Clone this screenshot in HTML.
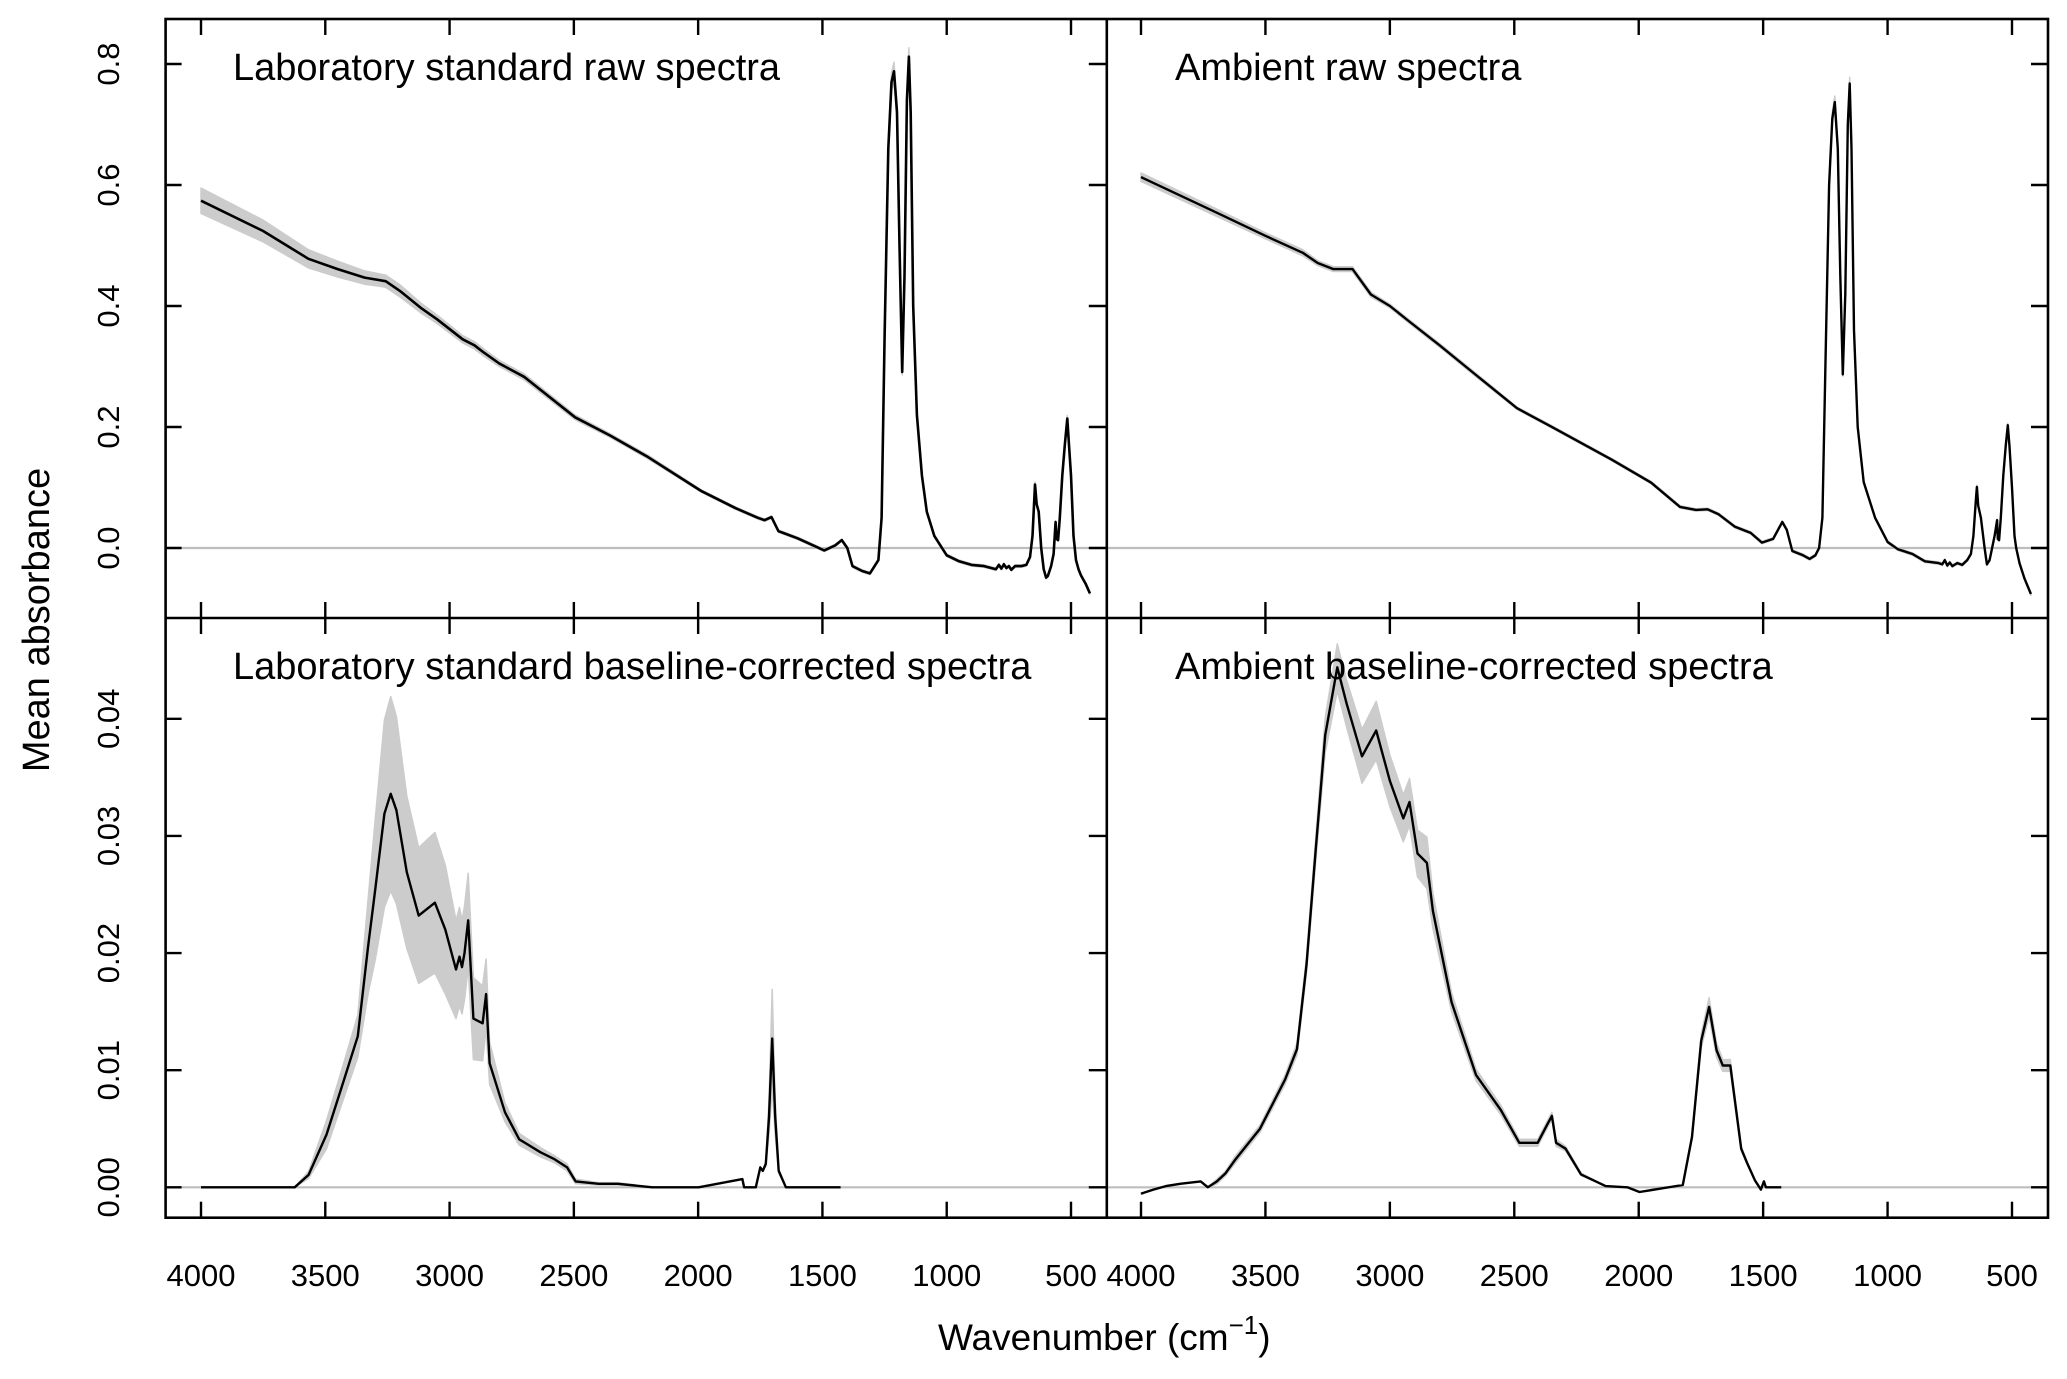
<!DOCTYPE html>
<html><head><meta charset="utf-8"><style>
html,body{margin:0;padding:0;background:#fff}
svg{display:block;font-family:"Liberation Sans",Arial,sans-serif}
</style></head><body>
<svg id="fig" width="2067" height="1379" viewBox="0 0 2067 1379" xmlns="http://www.w3.org/2000/svg"></svg>
<script>
// ---- data: lab raw ----
const labRawWn   = [4000,3750,3568,3450,3342,3257,3200,3116,3050,2947,2900,2862,2800,2700,2495,2354,2200,1987,1850,1760,1733,1705,1677,1600,1493,1450,1422,1400,1379,1340,1309,1290,1275,1262,1250,1235,1222,1212,1200,1190,1179,1170,1160,1152,1145,1135,1120,1100,1080,1050,1000,950,900,850,802,790,780,770,760,750,740,725,700,680,665,655,645,638,630,620,610,600,593,580,570,562,558,552,545,535,525,515,508,500,490,480,470,460,440,424];
const labRawMean = [0.574,0.524,0.478,0.461,0.447,0.441,0.425,0.397,0.378,0.345,0.335,0.323,0.305,0.283,0.216,0.186,0.150,0.094,0.066,0.050,0.046,0.051,0.028,0.016,-0.004,0.004,0.013,0.000,-0.030,-0.038,-0.042,-0.030,-0.020,0.05,0.35,0.66,0.77,0.788,0.72,0.50,0.291,0.45,0.74,0.812,0.72,0.40,0.22,0.12,0.06,0.02,-0.012,-0.022,-0.028,-0.030,-0.035,-0.028,-0.034,-0.027,-0.033,-0.030,-0.036,-0.030,-0.030,-0.028,-0.015,0.02,0.105,0.072,0.060,0.00,-0.035,-0.049,-0.046,-0.030,-0.010,0.043,0.015,0.013,0.05,0.12,0.17,0.214,0.17,0.12,0.02,-0.02,-0.035,-0.045,-0.060,-0.075];
const labRawSd   = [0.021,0.018,0.015,0.013,0.011,0.010,0.010,0.008,0.007,0.006,0.006,0.006,0.005,0.005,0.004,0.003,0.003,0.002,0.002,0.002,0.002,0.002,0.002,0.002,0.002,0.002,0.002,0.002,0.002,0.002,0.002,0.002,0.002,0.004,0.008,0.012,0.015,0.015,0.012,0.008,0.005,0.008,0.015,0.015,0.010,0.006,0.004,0.003,0.002,0.002,0.002,0.002,0.002,0.002,0.002,0.002,0.002,0.002,0.002,0.002,0.002,0.002,0.002,0.002,0.002,0.002,0.004,0.003,0.002,0.002,0.002,0.002,0.002,0.002,0.002,0.002,0.002,0.002,0.002,0.003,0.004,0.005,0.004,0.003,0.002,0.002,0.002,0.002,0.002,0.002];
// ---- data: ambient raw ----
const ambRawWn   = [4000,3700,3500,3350,3290,3227,3150,3076,3000,2927,2800,2654,2489,2353,2108,1950,1834,1770,1723,1680,1613,1550,1505,1460,1423,1405,1383,1340,1313,1290,1275,1262,1250,1235,1222,1212,1200,1190,1180,1170,1160,1152,1145,1135,1120,1096,1050,1000,959,900,850,795,780,770,760,750,740,720,700,680,665,655,645,641,636,625,610,601,590,580,570,560,557,552,545,535,525,517,510,500,490,483,470,450,424];
const ambRawMean = [0.613,0.555,0.516,0.488,0.471,0.461,0.461,0.419,0.400,0.376,0.335,0.286,0.231,0.201,0.146,0.108,0.068,0.063,0.064,0.056,0.035,0.025,0.009,0.015,0.043,0.030,-0.005,-0.012,-0.018,-0.012,0.00,0.05,0.30,0.60,0.71,0.737,0.66,0.45,0.287,0.42,0.70,0.768,0.66,0.36,0.20,0.109,0.05,0.01,-0.002,-0.010,-0.022,-0.025,-0.027,-0.020,-0.029,-0.024,-0.030,-0.025,-0.028,-0.020,-0.010,0.02,0.08,0.101,0.07,0.05,0.00,-0.027,-0.020,0.00,0.020,0.046,0.015,0.013,0.05,0.12,0.17,0.203,0.168,0.10,0.02,0.00,-0.025,-0.050,-0.076];
const ambRawSd   = [0.007,0.006,0.005,0.005,0.004,0.004,0.004,0.004,0.003,0.003,0.003,0.003,0.002,0.002,0.002,0.002,0.002,0.002,0.002,0.002,0.002,0.002,0.002,0.002,0.002,0.002,0.002,0.002,0.002,0.002,0.002,0.003,0.005,0.008,0.010,0.010,0.008,0.005,0.003,0.005,0.008,0.010,0.008,0.005,0.003,0.002,0.002,0.002,0.002,0.002,0.002,0.002,0.002,0.002,0.002,0.002,0.002,0.002,0.002,0.002,0.002,0.002,0.002,0.003,0.002,0.002,0.002,0.002,0.002,0.002,0.002,0.002,0.002,0.002,0.002,0.002,0.002,0.003,0.002,0.002,0.002,0.002,0.002,0.002,0.002];
// ---- data: lab baseline-corrected ----
const labBcWn   = [4000,3700,3623,3567,3495,3426,3369,3328,3299,3262,3237,3214,3172,3124,3059,3017,2974,2960,2950,2940,2925,2904,2867,2853,2839,2777,2720,2635,2578,2527,2493,2400,2323,2184,1998,1822,1815,1768,1750,1740,1728,1715,1702,1690,1676,1647,1427];
const labBcMean = [0,0,0,0.00106,0.0045,0.0091,0.0129,0.0205,0.0254,0.0319,0.0336,0.0322,0.0269,0.0232,0.0243,0.0220,0.0186,0.0197,0.0188,0.0200,0.0228,0.0144,0.0140,0.0165,0.0106,0.0064,0.0041,0.0030,0.0024,0.0017,0.0005,0.0003,0.0003,0,0,0.0007,0,0,0.0017,0.0014,0.0020,0.0060,0.0127,0.0060,0.0014,0,0];
const labBcSd   = [0,0,0,0.0003,0.0012,0.0015,0.0018,0.0040,0.0060,0.0080,0.0083,0.0080,0.0065,0.0058,0.0060,0.0055,0.0042,0.0042,0.0040,0.0040,0.0040,0.0035,0.0032,0.0030,0.0018,0.0008,0.0005,0.0004,0.0003,0.0003,0.0002,0.0001,0.0001,0,0,0,0,0,0,0,0.0002,0.0015,0.0042,0.0015,0.0002,0,0];
// ---- data: ambient baseline-corrected ----
const ambBcWn   = [4000,3950,3900,3843,3800,3760,3731,3695,3660,3620,3522,3421,3373,3335,3298,3260,3211,3174,3112,3055,3000,2946,2921,2889,2851,2827,2752,2654,2554,2480,2406,2369,2349,2332,2294,2232,2133,2046,1997,1823,1786,1749,1717,1687,1662,1632,1588,1563,1533,1509,1497,1489,1427];
const ambBcMean = [-0.00055,-0.0002,0.0001,0.0003,0.0004,0.0005,0,0.0005,0.0012,0.0024,0.005,0.0092,0.0118,0.019,0.0288,0.0386,0.0444,0.0413,0.0368,0.0390,0.0347,0.0315,0.0329,0.0285,0.0277,0.0236,0.0158,0.0096,0.0066,0.0038,0.0038,0.0053,0.0061,0.0038,0.0033,0.0011,0.0001,0,-0.0004,0.0002,0.0043,0.0125,0.0154,0.0117,0.0104,0.0104,0.0033,0.0020,0.0006,-0.0002,0.0005,0,0];
const ambBcSd   = [0,0,0,0,0,0,0,0.0002,0.0002,0.0003,0.0003,0.0004,0.0005,0.0007,0.0010,0.0015,0.0020,0.0020,0.0023,0.0025,0.0022,0.0020,0.0020,0.0020,0.0022,0.0015,0.0008,0.0005,0.0004,0.0003,0.0003,0.0003,0.0003,0.0003,0.0002,0.0001,0,0,0,0,0.0002,0.0006,0.0008,0.0006,0.0005,0.0005,0.0002,0.0001,0,0,0,0,0];

const xTicks = [4000,3500,3000,2500,2000,1500,1000,500];
const rawTicks = [0,0.2,0.4,0.6,0.8];
const rawTickLabels = ["0.0","0.2","0.4","0.6","0.8"];
const bcTicks = [0,0.01,0.02,0.03,0.04];
const bcTickLabels = ["0.00","0.01","0.02","0.03","0.04"];

const NS="http://www.w3.org/2000/svg";
const svg=document.getElementById('fig');
function mk(tag,attrs,parent){const e=document.createElementNS(NS,tag);for(const k in attrs)e.setAttribute(k,attrs[k]);(parent||svg).appendChild(e);return e;}

const L=165.6, M=1106.8, R=2048, T=19, MID=618, B=1217.7;
function xScaleFor(col){const x4000 = col===0?201:1141; const x500 = col===0?1071:2012; return w=>x4000+(4000-w)*(x500-x4000)/3500;}
function yRaw(v){return 548-(v)*605;}
function yBc(v){return 1187.3-v*11712;}

const panels=[
 {name:'lab-raw',col:0,row:0,wn:labRawWn,mean:labRawMean,sd:labRawSd,y:yRaw,title:'Laboratory standard raw spectra',lw:2.6},
 {name:'ambient-raw',col:1,row:0,wn:ambRawWn,mean:ambRawMean,sd:ambRawSd,y:yRaw,title:'Ambient raw spectra',lw:2.4},
 {name:'lab-baseline-corrected',col:0,row:1,wn:labBcWn,mean:labBcMean,sd:labBcSd,y:yBc,title:'Laboratory standard baseline-corrected spectra',lw:2.4},
 {name:'ambient-baseline-corrected',col:1,row:1,wn:ambBcWn,mean:ambBcMean,sd:ambBcSd,y:yBc,title:'Ambient baseline-corrected spectra',lw:2.4}
];

const defs=mk('defs',{});
panels.forEach((p,i)=>{
  const x0=p.col===0?L:M, x1=p.col===0?M:R, y0=p.row===0?T:MID, y1=p.row===0?MID:B;
  const cp=mk('clipPath',{id:'clip'+i},defs);
  mk('rect',{x:x0,y:y0,width:x1-x0,height:y1-y0},cp);
  const g=mk('g',{'clip-path':'url(#clip'+i+')'});
  
  
  const xs=xScaleFor(p.col);
  const z=mk('line',{x1:x0,x2:x1,y1:p.y(0),y2:p.y(0),stroke:'#bdbdbd','stroke-width':2.2},g);
  
  
  let up=[],lo=[];
  for(let k=0;k<p.wn.length;k++){up.push(xs(p.wn[k]).toFixed(1)+','+p.y(p.mean[k]+p.sd[k]).toFixed(1));lo.push(xs(p.wn[k]).toFixed(1)+','+p.y(p.mean[k]-p.sd[k]).toFixed(1));}
  const band=mk('polygon',{points:up.concat(lo.reverse()).join(' '),fill:'#cccccc',stroke:'#cccccc','stroke-width':1.5,'stroke-linejoin':'round'},g);
  
  
  let pts=[];
  for(let k=0;k<p.wn.length;k++)pts.push(xs(p.wn[k]).toFixed(1)+','+p.y(p.mean[k]).toFixed(1));
  const line=mk('polyline',{points:pts.join(' '),fill:'none',stroke:'#000','stroke-width':p.lw,'stroke-linejoin':'round'},g);
  
  
  const t=mk('text',{x:p.col===0?233:1175,y:p.row===0?80:679,'font-size':38,fill:'#000'});
  t.textContent=p.title;
  
  
  xTicks.forEach(w=>{
    const tx=xs(w);
    const a=mk('line',{x1:tx,x2:tx,y1:y0,y2:y0+16,stroke:'#000','stroke-width':2.4});
    
    
    const b=mk('line',{x1:tx,x2:tx,y1:y1,y2:y1-16,stroke:'#000','stroke-width':2.4});
    
    
    if(p.row===1){
      const lb=mk('text',{x:tx,y:1286,'font-size':31,'text-anchor':'middle',fill:'#000'});
      lb.textContent=String(w);
      
      
    }
  });
  const ticks=p.row===0?rawTicks:bcTicks, labs=p.row===0?rawTickLabels:bcTickLabels;
  ticks.forEach((v,k)=>{
    const ty=p.y(v);
    if(p.col===0){
      const a=mk('line',{x1:L,x2:L+16,y1:ty,y2:ty,stroke:'#000','stroke-width':2.4});
      
      
      const b=mk('line',{x1:M,x2:M-18,y1:ty,y2:ty,stroke:'#000','stroke-width':2.4});
      
      
      const lb=mk('text',{x:119,y:ty,'font-size':31,'text-anchor':'middle',fill:'#000',transform:'rotate(-90 119 '+ty+')'});
      lb.textContent=labs[k];
      
      
    } else {
      const a=mk('line',{x1:R,x2:R-17,y1:ty,y2:ty,stroke:'#000','stroke-width':2.4});
      
      
    }
  });
});
const fr=mk('rect',{x:L,y:T,width:R-L,height:B-T,fill:'none',stroke:'#000','stroke-width':2.6});


const v=mk('line',{x1:M,x2:M,y1:T,y2:B,stroke:'#000','stroke-width':2.6});


const h=mk('line',{x1:L,x2:R,y1:MID,y2:MID,stroke:'#000','stroke-width':2.6});


const xt=mk('text',{x:938,y:1350,'font-size':37,fill:'#000'});
xt.innerHTML='Wavenumber (cm<tspan dy="-16" font-size="26">\u22121</tspan><tspan dy="16">)</tspan>';


const yt=mk('text',{x:49,y:620,'font-size':38,'text-anchor':'middle',fill:'#000',transform:'rotate(-90 49 620)'});
yt.textContent='Mean absorbance';


</script>
</body></html>
